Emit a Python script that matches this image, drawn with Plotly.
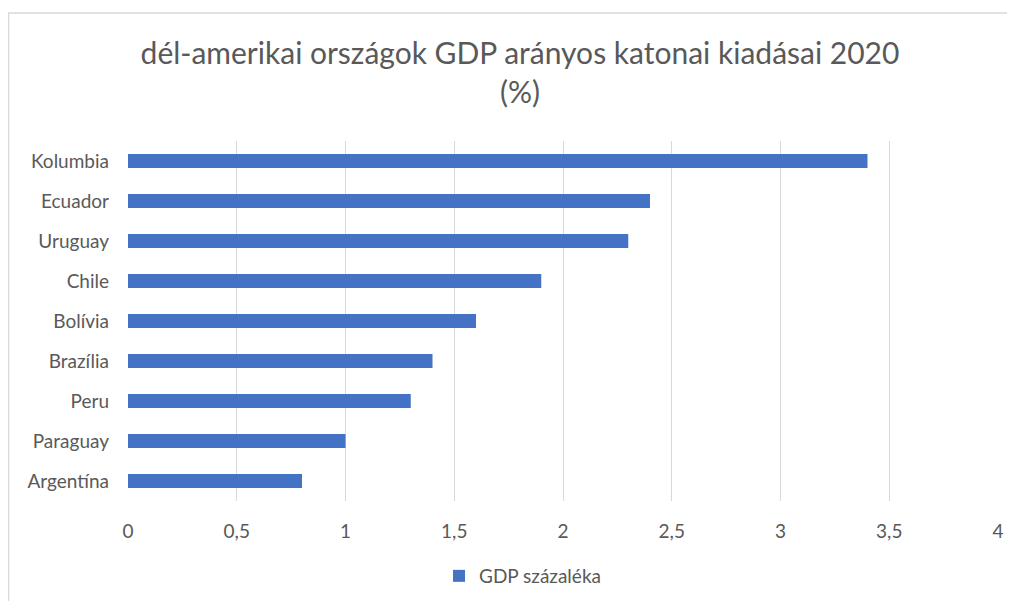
import plotly.graph_objects as go

# data, bottom to top as in the chart
countries = ["Argentína", "Paraguay", "Peru", "Brazília", "Bolívia",
             "Chile", "Uruguay", "Ecuador", "Kolumbia"]
gdp_share = [0.8, 1.0, 1.3, 1.4, 1.6, 1.9, 2.3, 2.4, 3.4]

x_ticks = [0, 0.5, 1, 1.5, 2, 2.5, 3, 3.5, 4]
x_tick_labels = ["0", "0,5", "1", "1,5", "2", "2,5", "3", "3,5", "4"]

# the page body has an 8px margin, so the figure is drawn 8px in
OFF = 8
W, H = 1015 - OFF, 601 - OFF
L, R, T, B = 128 - OFF, 17, 141 - OFF, 100
pw, ph = W - L - R, H - T - B

fig = go.Figure()

fig.add_trace(go.Bar(
    x=gdp_share,
    y=countries,
    orientation='h',
    marker=dict(color='#4472C4', line=dict(width=0)),
    name='GDP százaléka',
    showlegend=True,
))

font_fam = "Lato, 'Open Sans', sans-serif"

fig.update_layout(
    width=W, height=H,
    margin=dict(l=L, r=R, t=T, b=B, autoexpand=False),
    paper_bgcolor='white',
    plot_bgcolor='white',
    font=dict(family=font_fam, color='#595959', size=19),
    bargap=0.65,
    title=dict(
        text="dél-amerikai országok GDP arányos katonai kiadásai 2020<br>(%)",
        x=(520 - OFF) / W, xanchor='center',
        y=1 - (64 - OFF) / H, yanchor='middle',
        font=dict(size=30, color='#595959', family=font_fam),
    ),
    xaxis=dict(
        range=[0, 4],
        tickvals=x_ticks,
        ticktext=x_tick_labels,
        showgrid=True, gridcolor='#d9d9d9', gridwidth=1,
        zeroline=False, showline=False,
        ticks='', ticklabelstandoff=17,
        tickfont=dict(size=19, color='#595959'),
    ),
    yaxis=dict(
        categoryorder='array', categoryarray=countries,
        showgrid=False, zeroline=False, showline=False,
        ticks='', ticklabelstandoff=18,
        tickfont=dict(size=19, color='#595959'),
    ),
    legend=dict(
        orientation='h',
        x=(439 - 128) / pw, xanchor='left',
        y=-(576 - 501) / ph, yanchor='middle',
        font=dict(size=19, color='#595959'),
    ),
    shapes=[dict(
        type='rect', xref='paper', yref='paper',
        x0=(0.5 - L) / pw, x1=(W + 10 - L) / pw,
        y0=-(H + 10 - (T + ph)) / ph, y1=1 + (T - 5) / ph,
        line=dict(color='#d9d9d9', width=1.5),
        fillcolor='rgba(0,0,0,0)', layer='below',
    )],
)

fig.write_html("out.html")
